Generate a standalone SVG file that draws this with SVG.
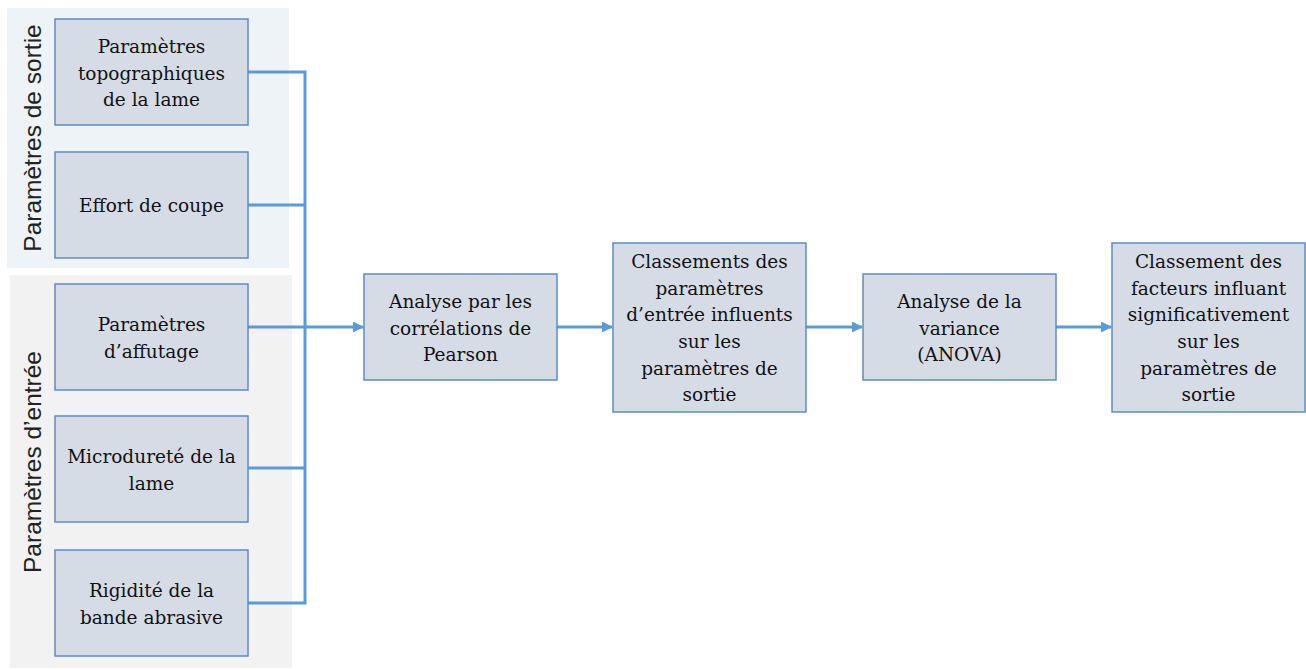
<svg xmlns="http://www.w3.org/2000/svg" width="1306" height="670" viewBox="0 0 1306 670">
<defs>
<style>
.box{fill:#D6DCE5;stroke:#5B8CC6;stroke-width:1.5}
.t{font-family:"DejaVu Serif","Liberation Serif",serif;font-size:18.5px;fill:#111;text-anchor:middle}
.side{font-family:"Liberation Sans","Noto Sans",sans-serif;font-size:24.5px;fill:#222;text-anchor:middle}
.c{fill:none;stroke:#5B9BD5;stroke-width:3}
</style>
<marker id="ah" markerWidth="14" markerHeight="12" refX="10" refY="5.5" orient="auto" markerUnits="userSpaceOnUse"><path d="M0,0 L11,5.5 L0,11 Z" fill="#5B9BD5"/></marker>
</defs>
<rect width="1306" height="670" fill="#fff"/>
<g id="panel-sortie"><rect x="7" y="8" width="282" height="260" fill="#EEF3F8"/><text class="side" transform="translate(41,138) rotate(-90)">Paramètres de sortie</text></g>
<g id="panel-entree"><rect x="10" y="275" width="282" height="393" fill="#F2F2F2"/><text class="side" transform="translate(41,462) rotate(-90)">Paramètres d’entrée</text></g>
<g id="connectors">
<path class="c" d="M248,72 H305 V603 H248"/>
<path class="c" d="M248,205 H305"/>
<path class="c" d="M248,468 H305"/>
<path class="c" d="M248,327 H363" marker-end="url(#ah)"/>
<path class="c" d="M557,327 H612" marker-end="url(#ah)"/>
<path class="c" d="M806,327 H862" marker-end="url(#ah)"/>
<path class="c" d="M1056,327 H1111" marker-end="url(#ah)"/>
</g>
<g id="n1"><rect class="box" x="55" y="19" width="193" height="106"/><text class="t" x="151.5" y="53">Paramètres</text><text class="t" x="151.5" y="80">topographiques</text><text class="t" x="151.5" y="106">de la lame</text></g>
<g id="n2"><rect class="box" x="55" y="152" width="193" height="106"/><text class="t" x="151.5" y="212">Effort de coupe</text></g>
<g id="n3"><rect class="box" x="55" y="284" width="193" height="106"/><text class="t" x="151.5" y="331">Paramètres</text><text class="t" x="151.5" y="358">d’affutage</text></g>
<g id="n4"><rect class="box" x="55" y="416" width="193" height="106"/><text class="t" x="151.5" y="463">Microdureté de la</text><text class="t" x="151.5" y="490">lame</text></g>
<g id="n5"><rect class="box" x="55" y="550" width="193" height="106"/><text class="t" x="151.5" y="597">Rigidité de la</text><text class="t" x="151.5" y="624">bande abrasive</text></g>
<g id="n6"><rect class="box" x="364" y="274" width="193" height="106"/><text class="t" x="460.5" y="308">Analyse par les</text><text class="t" x="460.5" y="335">corrélations de</text><text class="t" x="460.5" y="361">Pearson</text></g>
<g id="n7"><rect class="box" x="613" y="243" width="193" height="169"/><text class="t" x="709.5" y="268">Classements des</text><text class="t" x="709.5" y="295">paramètres</text><text class="t" x="709.5" y="321">d’entrée influents</text><text class="t" x="709.5" y="348">sur les</text><text class="t" x="709.5" y="375">paramètres de</text><text class="t" x="709.5" y="401">sortie</text></g>
<g id="n8"><rect class="box" x="863" y="274" width="193" height="106"/><text class="t" x="959.5" y="308">Analyse de la</text><text class="t" x="959.5" y="335">variance</text><text class="t" x="959.5" y="361">(ANOVA)</text></g>
<g id="n9"><rect class="box" x="1112" y="243" width="193" height="169"/><text class="t" x="1208.5" y="268">Classement des</text><text class="t" x="1208.5" y="295">facteurs influant</text><text class="t" x="1208.5" y="321">significativement</text><text class="t" x="1208.5" y="348">sur les</text><text class="t" x="1208.5" y="375">paramètres de</text><text class="t" x="1208.5" y="401">sortie</text></g>
</svg>
